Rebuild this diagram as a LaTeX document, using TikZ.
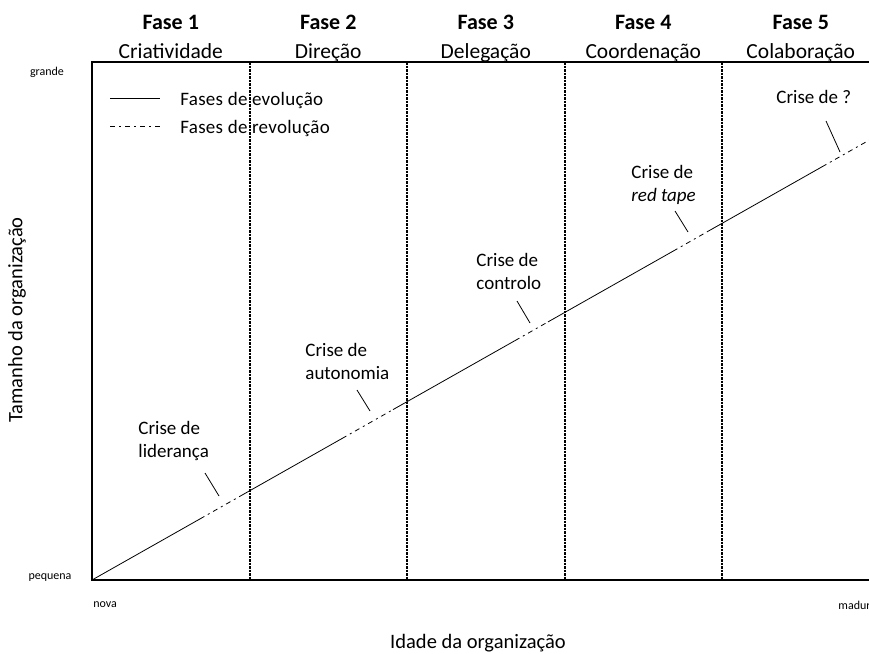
\documentclass[tikz,border=0pt]{standalone}
\usepackage{fontspec}
\setmainfont{Carlito}
\newfontfamily\largo[LetterSpace=1.5]{Carlito}
\usetikzlibrary{positioning}
\tikzset{
  fase/.style={font=\fontsize{22}{26}\selectfont\bfseries, anchor=base},
  nome/.style={font=\fontsize{21.5}{26}\selectfont, anchor=base},
  crise/.style={font=\fontsize{19}{23}\selectfont, align=left, anchor=west, inner sep=0pt},
  legenda/.style={font=\fontsize{19}{22}\largo, anchor=base west, inner sep=0pt},
  pequeno/.style={font=\fontsize{12}{14}\selectfont, inner sep=0pt},
  eixo/.style={font=\fontsize{20.5}{24}\selectfont},
  divisao/.style={line width=2pt, dash pattern=on 2.5pt off 1pt},
  revolucao/.style={dash pattern=on 5pt off 4pt on 2pt off 4pt},
}
\begin{document}
\begin{tikzpicture}[x=1pt,y=-1pt,line width=0.8pt]
    \useasboundingbox (0,0) rectangle (869,653);
    \clip (0,0) rectangle (869,653);
    %frame
    \coordinate (topo) at (92,62);
    \coordinate (topofim) at (885,62);
    \coordinate (O) at (92,580);
    \coordinate (basefim) at (885,580);
    \draw[line width=2pt] (topofim) -- (topo) -- (O) -- (basefim);
    %phase dividers
    \foreach \i in {1,...,4}
        {%
            \draw[divisao] (92+157.5*\i,62) -- (92+157.5*\i,580);
        }
    %phase titles
    \foreach \i/\n in {1/Criatividade,2/Direção,3/Delegação,4/Coordenação,5/Colaboração}
        {%
            \node[fase] (fase\i) at (13.25+157.5*\i,29) {Fase \i};
            \node[nome] (nome\i) at (13.25+157.5*\i,58) {\n};
        }
    %legend
    \coordinate (ev1) at (110,98);
    \coordinate (ev2) at (160,98);
    \coordinate (rev1) at (110,126);
    \coordinate (rev2) at (160,126);
    \draw (ev1) -- (ev2);
    \draw[revolucao] (rev1) -- (rev2);
    \node[legenda] (evolucao) at (180,105) {Fases de evolução};
    \node[legenda] (revolucao) at (180,133) {Fases de revolução};
    %axis texts
    \node[pequeno] (grande) at (47,72) {grande};
    \node[pequeno] (pequena) at (50,578) {pequena};
    \node[pequeno, anchor=west] (nova) at (93,605) {nova};
    \node[pequeno, anchor=west] (madura) at (838,605) {madura};
    \node[eixo, rotate=90] (tamanho) at (17,320) {Tamanho da organização};
    \node[eixo] (idade) at (478,643) {Idade da organização};
    %growth line
    \coordinate (r1a) at (200,518.9);
    \coordinate (r1b) at (242,495.1);
    \coordinate (r2a) at (342,438.5);
    \coordinate (r2b) at (393,409.6);
    \coordinate (r3a) at (515,340.6);
    \coordinate (r3b) at (548,321.9);
    \coordinate (r4a) at (673,251.2);
    \coordinate (r4b) at (708,231.3);
    \coordinate (r5a) at (822,166.8);
    \coordinate (r5b) at (885,131.2);
    \draw (O) -- (r1a) (r1b) -- (r2a) (r2b) -- (r3a) (r3b) -- (r4a) (r4b) -- (r5a);
    \draw[revolucao] (r1a) -- (r1b) (r2a) -- (r2b) (r3a) -- (r3b) (r4a) -- (r4b) (r5a) -- (r5b);
    %crises
    \node[crise] (crise1) at (138,441) {Crise de\\liderança};
    \node[crise] (crise2) at (305,361) {Crise de\\autonomia};
    \node[crise] (crise3) at (476,271.5) {Crise de\\controlo};
    \node[crise] (crise4) at (631,184.5) {Crise de\\\textit{red tape}};
    \node[crise] (crise5) at (776,97) {Crise de ?};
    \coordinate (p1a) at (205,473);
    \coordinate (p1b) at (219,496);
    \coordinate (p2a) at (357,390);
    \coordinate (p2b) at (370,411);
    \coordinate (p3a) at (517,301);
    \coordinate (p3b) at (530,323);
    \coordinate (p4a) at (675,211);
    \coordinate (p4b) at (688,232);
    \coordinate (p5a) at (826,121);
    \coordinate (p5b) at (840,152);
    \foreach \i in {1,...,5}
        {%
            \draw (p\i a) -- (p\i b);
        }
\end{tikzpicture}
\end{document}
